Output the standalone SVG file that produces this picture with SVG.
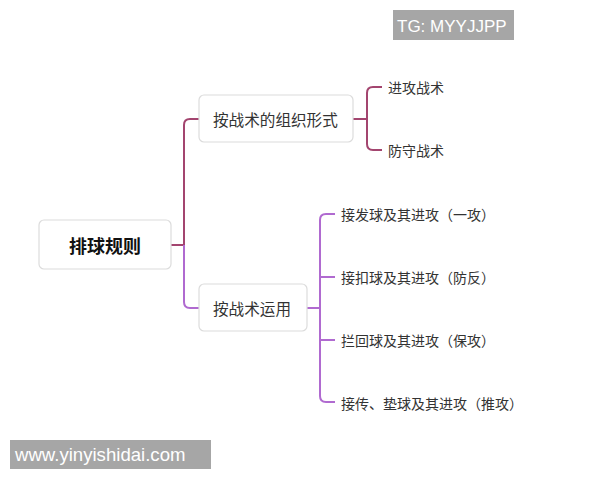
<svg xmlns="http://www.w3.org/2000/svg" width="600" height="480" viewBox="0 0 600 480">
<style>
.node{fill:#ffffff;stroke:#dcdcdc;stroke-width:1.2}
.t{font-family:"Noto Sans CJK SC","Liberation Sans",sans-serif;font-size:15.6px;fill:#333333;dominant-baseline:central}
.s{font-family:"Noto Sans CJK SC","Liberation Sans",sans-serif;font-size:14px;fill:#333333;dominant-baseline:central}
.m{fill:none;stroke:#a3456f;stroke-width:2}
.p{fill:none;stroke:#b06ad0;stroke-width:2}
.wm{fill:#a6a6a6}
.wt{font-family:"Liberation Sans",Arial,sans-serif;font-size:17px;fill:#ffffff}
</style>
<rect width="600" height="480" fill="#ffffff"/>
<g id="connectors">
<path class="m" d="M171,245 H184"/>
<path class="m" d="M184,245 V125 Q184,119 190,119 H199"/>
<path class="p" d="M184,245 V302 Q184,308 190,308 H199"/>
<path class="m" d="M353,119 H367"/>
<path class="m" d="M382,87 H373 Q367,87 367,93 V144 Q367,150 373,150 H382"/>
<path class="p" d="M307,308 H320"/>
<path class="p" d="M335,214 H326 Q320,214 320,220 V396 Q320,402 326,402 H335"/>
<path class="p" d="M320,277 H335"/>
<path class="p" d="M320,340 H335"/>
</g>
<g id="root">
<rect class="node" x="39" y="220" width="132" height="49" rx="5"/>
<text class="t" x="105" y="245" text-anchor="middle" style="font-weight:bold;font-size:18px;fill:#111">排球规则</text>
</g>
<g id="n1">
<rect class="node" x="199" y="95" width="154" height="47" rx="5"/>
<text class="t" x="213" y="119">按战术的组织形式</text>
</g>
<g id="n2">
<rect class="node" x="199" y="284" width="108" height="47" rx="5"/>
<text class="t" x="213" y="308">按战术运用</text>
</g>
<g id="l1"><text class="s" x="388" y="87">进攻战术</text></g>
<g id="l2"><text class="s" x="388" y="150">防守战术</text></g>
<g id="l3"><text class="s" x="341" y="214">接发球及其进攻（一攻）</text></g>
<g id="l4"><text class="s" x="341" y="277">接扣球及其进攻（防反）</text></g>
<g id="l5"><text class="s" x="341" y="340">拦回球及其进攻（保攻）</text></g>
<g id="l6"><text class="s" x="341" y="403">接传、垫球及其进攻（推攻）</text></g>
<g id="wm1">
<rect class="wm" x="393" y="10" width="121" height="30"/>
<text class="wt" x="397" y="32">TG: MYYJJPP</text>
</g>
<g id="wm2">
<rect class="wm" x="10" y="440" width="201" height="29"/>
<text class="wt" x="15" y="461" style="font-size:18.6px">www.yinyishidai.com</text>
</g>
</svg>
